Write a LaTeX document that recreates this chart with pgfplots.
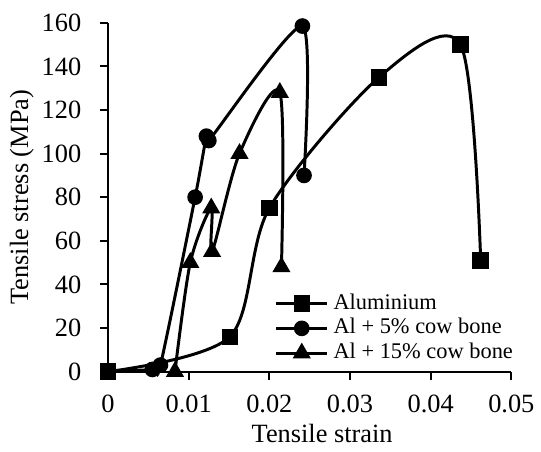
\documentclass[border=0pt]{standalone}
\usepackage{fontspec}
\setmainfont{Liberation Serif}
\usepackage{pgfplots}
\pgfplotsset{compat=1.18}
\begin{document}
\begin{tikzpicture}
\begin{axis}[
    name=ax,
    width=203.5pt, height=176pt, scale only axis,
    xmin=0, xmax=0.05, ymin=0, ymax=160,
    xtick={0,0.01,...,0.05}, ytick={0,20,...,160},
    axis lines=left, axis line style={line width=1pt, -},
    tick style={line width=1pt, black}, tick align=outside,
    major tick length=4pt,
    xticklabel style={/pgf/number format/fixed, /pgf/number format/precision=2, yshift=-4.5pt},
    yticklabel style={xshift=-6pt},
    scaled x ticks=false,
    /pgf/number format/assume math mode=true,
    tick label style={font=\fontsize{13.3}{14}\selectfont},
    label style={font=\fontsize{13.3}{14}\selectfont},
    xlabel={Tensile strain}, ylabel={Tensile stress (MPa)},
    xlabel style={at={(axis description cs:0.531,-0.176)}, anchor=center},
    ylabel style={at={(axis description cs:-0.2138,0.5)}, anchor=center},
    legend style={draw=none, fill=none, inner sep=0pt, at={(axis description cs:0.4128,0.022)}, anchor=south west,
        font=\fontsize{11.3}{12.5}\selectfont, row sep=2pt, column sep=2.5pt,
        nodes={inner sep=0pt, text height=8pt, text depth=2.5pt}},
    legend cell align=left,
    legend image code/.code={\draw[mark repeat=2, mark phase=2, #1] plot coordinates {(0cm,0cm)(0.45cm,0cm)(0.9cm,0cm)};},
    every axis plot/.append style={black, line width=1.5pt, smooth, mark options={solid}},
    clip=false,
]
\addplot[mark=square*, mark size=3.4pt] coordinates {
(0,0) (0.0151,16) (0.0200,75) (0.0336,135) (0.0437,150) (0.0462,51)
};
\addlegendentry{Aluminium}
\addplot[mark=*, mark size=3.2pt, tension=0.4] coordinates {
(0,0) (0.0055,1) (0.0065,3) (0.0108,80) (0.0122,108) (0.0125,106) (0.0241,158.5) (0.0243,90)
};
\addlegendentry{Al + 5\% cow bone}
\addplot[mark=triangle*, mark size=3.8pt] coordinates {
(0.0083,0) (0.0102,50) (0.0128,75) (0.0129,55) (0.0163,100) (0.0213,128) (0.0215,48)
};
\addlegendentry{Al + 15\% cow bone}
\end{axis}
\path (ax.south west) +(-54.5pt,-40.5pt) (ax.north east) +(12.5pt,11.5pt);
\end{tikzpicture}
\end{document}
